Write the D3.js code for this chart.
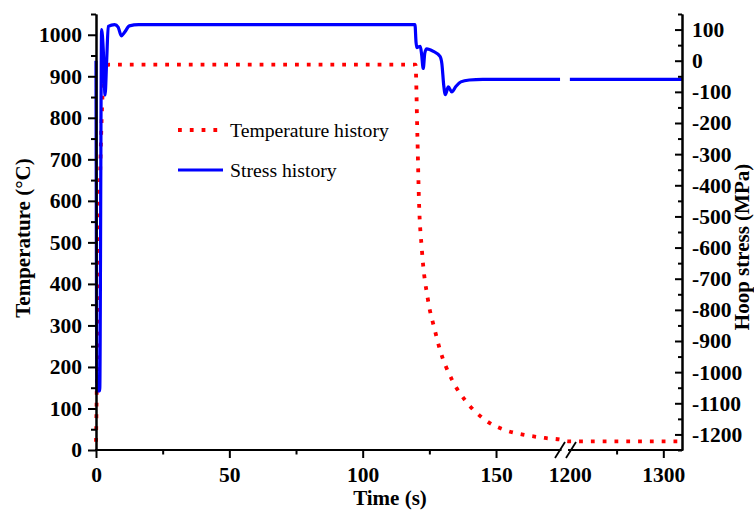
<!DOCTYPE html>
<html>
<head>
<meta charset="utf-8">
<script src="https://cdn.jsdelivr.net/npm/d3@7"></script>
<style>
	body { margin: 0; background: #fff; }
	svg { display: block; }
	.tick line, .domain { stroke: #000; stroke-width: 2; }
	.ttl { font-family: "Liberation Serif", "Times New Roman", serif; font-weight: bold; font-size: 21px; }
	.leg { font-family: "Liberation Serif", "Times New Roman", serif; font-size: 19.7px; }
</style>
</head>
<body>
<div id="chart"></div>
<script>
// temperature history (left axis, °C)
var tempTime = [0, 0.3, 0.8, 1.5, 2.3, 2.8, 3.3, 5, 119.8, 120.5, 121.1, 122.2, 124.5, 127, 129, 133.5, 138.4, 146, 153.4, 161, 168.4, 175, 1198, 1320];
var tempVal  = [20, 150, 400, 650, 830, 900, 925, 928, 928, 760, 602, 482, 361, 290, 241, 169, 120, 72, 48, 36, 29, 24, 21, 21];

// hoop stress history (right axis, MPa)
var stressTime = [0, 0.35, 1.4, 2.1, 2.7, 3.4, 4.0, 4.6, 7, 8.3, 9.5, 10.8, 12.5, 16, 119.6, 120.0, 120.3, 121.0, 121.6, 122.1, 122.7, 123.3, 124, 126.5, 129, 129.7, 130.4, 131, 132.1, 133.4, 135, 136.8, 140, 145, 174, 1200, 1320];
var stressVal  = [0, -1060, -1060, 100, 40, -110, 0, 110, 116, 108, 80, 92, 112, 116, 116, 60, 42, 45, 46, 20, -25, 25, 38, 30, 14, -10, -80, -109, -84, -100, -82, -68, -62, -60, -60, -60, -60, -60];

var xMajor = [0, 50, 100, 150, 1200, 1300];
var xMinor = [25, 75, 125, 1250];
var tempTicks = d3.range(0, 1001, 100);
var stressTicks = d3.range(-1200, 101, 100);

var W = 754, H = 511;
var mLeft = 96, mRight = 682, mTop = 14, mBottom = 450;

var svg = d3.select("#chart").append("svg").attr("width", W).attr("height", H);

// broken time axis: 0-175 then 1198-1320
var x = d3.scaleLinear().domain([0, 175, 1198, 1320]).range([mLeft, 562.7, 568, mRight]);
var yT = d3.scaleLinear().domain([0, 1050]).range([mBottom, mTop]);
var yS = d3.scaleLinear().domain([-1250, 150]).range([mBottom, mTop]);

var temp = tempTime.map(function (t, i) { return { t: t, v: tempVal[i] }; });
var stress = stressTime.map(function (t, i) { return { t: t, v: stressVal[i] }; });

var lineT = d3.line().x(function (d) { return x(d.t); }).y(function (d) { return yT(d.v); }).curve(d3.curveMonotoneX);
var lineS = d3.line().x(function (d) { return x(d.t); }).y(function (d) { return yS(d.v); }).curve(d3.curveMonotoneX);

svg.append("path").datum(temp)
	.attr("d", lineT).attr("fill", "none").attr("stroke", "#ff0000")
	.attr("stroke-width", 3.8).attr("stroke-dasharray", "3.8 8");

svg.append("path").datum(stress.filter(function (d) { return d.t < 1000; }))
	.attr("d", lineS).attr("fill", "none").attr("stroke", "#0000ff").attr("stroke-width", 3.2);
svg.append("path").datum(stress.filter(function (d) { return d.t > 1000; }))
	.attr("d", lineS).attr("fill", "none").attr("stroke", "#0000ff").attr("stroke-width", 3.2);

function tickFont(g) {
	g.selectAll("text")
		.style("font-family", "'Liberation Serif', 'Times New Roman', serif")
		.style("font-weight", "bold")
		.style("font-size", "21.5px")
		.style("fill", "#000");
}
var plain = function (d) { return String(d); }; // plain hyphen for negatives

// left axis
svg.append("g").attr("transform", "translate(" + mLeft + ",0)")
	.call(d3.axisLeft(yT).tickValues(d3.range(50, 1051, 100)).tickSize(5).tickSizeOuter(0).tickFormat(""));
svg.append("g").attr("transform", "translate(" + mLeft + ",0)")
	.call(d3.axisLeft(yT).tickValues(tempTicks).tickSize(8).tickSizeOuter(0).tickPadding(6).tickFormat(plain))
	.call(tickFont);

// right axis, ticks pointing in
svg.append("g").attr("transform", "translate(" + mRight + ",0)")
	.call(d3.axisRight(yS).tickValues(d3.range(-1250, 151, 100)).tickSize(-4).tickSizeOuter(0).tickFormat(""));
svg.append("g").attr("transform", "translate(" + mRight + ",0)")
	.call(d3.axisRight(yS).tickValues(stressTicks).tickSize(-7).tickSizeOuter(0).tickPadding(10).tickFormat(plain))
	.call(tickFont);

// bottom axis with break
var gx = svg.append("g").attr("transform", "translate(0," + mBottom + ")");
gx.call(d3.axisBottom(x).tickValues(xMajor).tickSize(8).tickSizeOuter(0).tickPadding(8.5).tickFormat(plain))
	.call(tickFont);
gx.select(".domain").remove();
gx.selectAll(".tick").filter(function (d) { return d === 1200; }).select("line").remove();
var gx2 = svg.append("g").attr("transform", "translate(0," + mBottom + ")");
gx2.call(d3.axisBottom(x).tickValues(xMinor).tickSize(4.5).tickSizeOuter(0).tickFormat(""));
gx2.select(".domain").remove();

svg.append("line").attr("x1", mLeft - 1).attr("x2", 561.5).attr("y1", mBottom).attr("y2", mBottom)
	.attr("stroke", "#000").attr("stroke-width", 2);
svg.append("line").attr("x1", 568).attr("x2", mRight + 1).attr("y1", mBottom).attr("y2", mBottom)
	.attr("stroke", "#000").attr("stroke-width", 2);
[[555, 565], [566, 576]].forEach(function (s) {
	svg.append("line").attr("x1", s[0]).attr("y1", 458).attr("x2", s[1]).attr("y2", 442)
		.attr("stroke", "#000").attr("stroke-width", 1.8);
});

// titles
svg.append("text").attr("class", "ttl").attr("text-anchor", "middle")
	.attr("transform", "translate(30,238) rotate(-90)").text("Temperature (°C)");
svg.append("text").attr("class", "ttl").attr("text-anchor", "middle")
	.attr("transform", "translate(749,247) rotate(-90)").text("Hoop stress (MPa)");
svg.append("text").attr("class", "ttl").attr("text-anchor", "middle")
	.attr("x", 390).attr("y", 505).text("Time (s)");

// legend
var legend = svg.append("g");
legend.append("line").attr("x1", 178).attr("x2", 222).attr("y1", 130).attr("y2", 130)
	.attr("stroke", "#ff0000").attr("stroke-width", 3.8).attr("stroke-dasharray", "3.8 8");
legend.append("text").attr("class", "leg").attr("x", 230).attr("y", 137).text("Temperature history");
legend.append("line").attr("x1", 178).attr("x2", 223).attr("y1", 170).attr("y2", 170)
	.attr("stroke", "#0000ff").attr("stroke-width", 3.2);
legend.append("text").attr("class", "leg").attr("x", 230).attr("y", 177).text("Stress history");
</script>
</body>
</html>
